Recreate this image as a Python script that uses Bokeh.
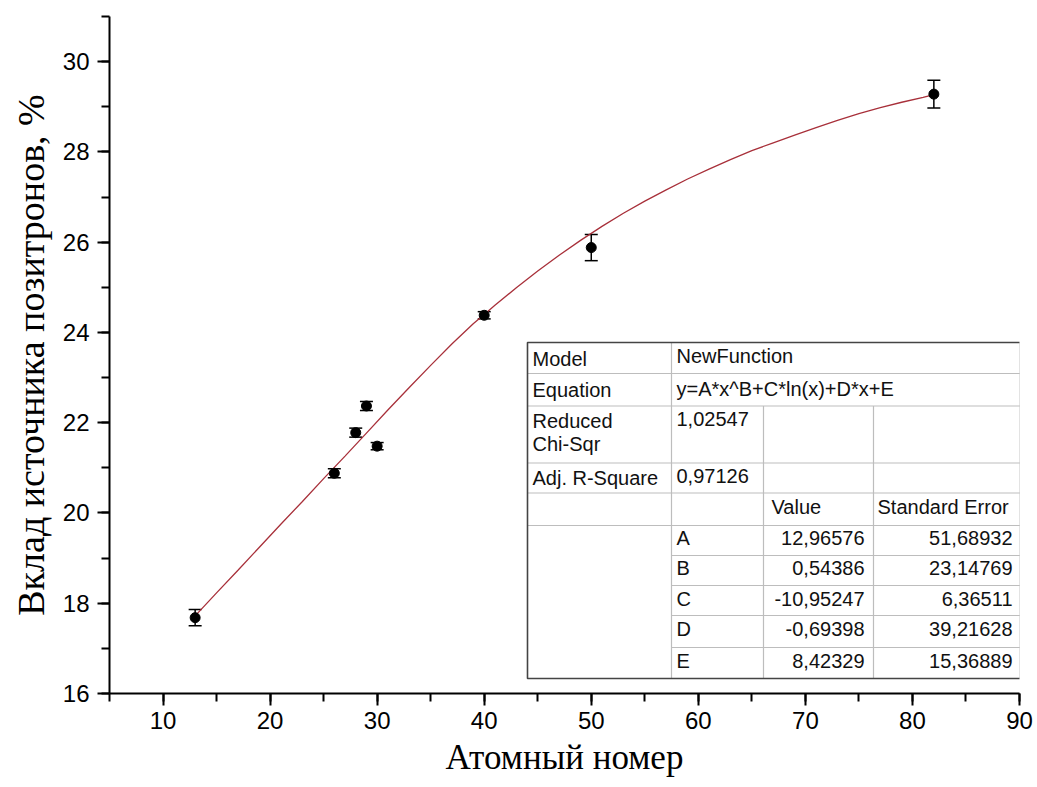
from bokeh.plotting import figure
from bokeh.models import Range1d, SingleIntervalTicker, ColumnDataSource, Whisker, TeeHead
from bokeh.core.properties import value
from bokeh.embed import file_html
from bokeh.resources import INLINE

# ---- data ----
atomic_number = [13, 26, 28, 29, 30, 40, 50, 82]
contribution = [17.68, 20.88, 21.78, 22.37, 21.48, 24.38, 25.88, 29.28]
error = [0.18, 0.10, 0.10, 0.10, 0.08, 0.08, 0.29, 0.31]

fit_x = [13, 15, 17, 19, 21, 23, 25, 27, 29, 31, 33, 35, 37, 39, 40, 41, 43, 45, 47, 49,
         51, 53, 55, 57, 59, 61, 63, 65, 67, 69, 71, 73, 75, 77, 79, 81, 82]
fit_y = [17.72, 18.23, 18.73, 19.24, 19.75, 20.25, 20.76, 21.26, 21.77, 22.28, 22.78,
         23.27, 23.75, 24.20, 24.40, 24.60, 24.99, 25.36, 25.71, 26.04,
         26.35, 26.64, 26.91, 27.16, 27.40, 27.62, 27.83, 28.03, 28.20, 28.37,
         28.54, 28.70, 28.85, 28.98, 29.10, 29.21, 29.27]

x_ticks_interval = 10
y_ticks_interval = 2

table_model = "NewFunction"
table_equation = "y=A*x^B+C*ln(x)+D*x+E"
table_chi = "1,02547"
table_r2 = "0,97126"
param_names = ["A", "B", "C", "D", "E"]
param_values = ["12,96576", "0,54386", "-10,95247", "-0,69398", "8,42329"]
param_errors = ["51,68932", "23,14769", "6,36511", "39,21628", "15,36889"]

# ---- figure ----
XMIN, XMAX, YMIN, YMAX = 5, 90, 16, 31
LEFT, RIGHT, TOP, BOTTOM = 109, 1019, 16, 693
W, H = 1037, 787

p = figure(width=W, height=H, x_range=Range1d(XMIN, XMAX), y_range=Range1d(YMIN, YMAX),
           min_border_left=LEFT, min_border_right=W - RIGHT, min_border_top=TOP,
           min_border_bottom=H - BOTTOM, output_backend="svg", toolbar_location=None)
p.outline_line_color = None
p.xgrid.visible = False
p.ygrid.visible = False
p.background_fill_color = "white"
p.border_fill_color = "white"

for ax in (p.xaxis[0], p.yaxis[0]):
    ax.axis_line_width = 2
    ax.axis_line_color = "black"
    ax.major_tick_line_width = 2
    ax.minor_tick_line_width = 2
    ax.major_tick_out = 12
    ax.major_tick_in = 0
    ax.minor_tick_out = 8
    ax.minor_tick_in = 0
    ax.major_label_text_font = "Liberation Sans"
    ax.major_label_text_font_size = "24px"
    ax.major_label_text_color = "black"
    ax.axis_label_text_font = "Liberation Serif"
    ax.axis_label_text_font_style = "normal"
    ax.axis_label_text_color = "black"

p.xaxis[0].ticker = SingleIntervalTicker(interval=x_ticks_interval, num_minor_ticks=2)
p.yaxis[0].ticker = SingleIntervalTicker(interval=y_ticks_interval, num_minor_ticks=2)
p.xaxis[0].axis_label = "Атомный номер"
p.yaxis[0].axis_label = "Вклад источника позитронов, %"
p.xaxis[0].axis_label_text_font_size = "35px"
p.yaxis[0].axis_label_text_font_size = "38px"
p.xaxis[0].major_label_standoff = 6
p.yaxis[0].major_label_standoff = 8
p.xaxis[0].axis_label_standoff = 6
p.yaxis[0].axis_label_standoff = 8

# fit curve
p.line(fit_x, fit_y, line_color="#a8303a", line_width=1.3)

# error bars
src = ColumnDataSource(dict(
    x=atomic_number, y=contribution,
    lo=[c - e for c, e in zip(contribution, error)],
    hi=[c + e for c, e in zip(contribution, error)],
))
wh = Whisker(source=src, base="x", lower="lo", upper="hi", line_color="black", line_width=1.5,
             upper_head=TeeHead(size=13, line_width=1.5, line_color="black"),
             lower_head=TeeHead(size=13, line_width=1.5, line_color="black"))
p.add_layout(wh)
p.scatter("x", "y", source=src, size=10, color="black")

# ---- parameter table (pixel layout converted to data coords) ----
def dx(px):
    return XMIN + (px - LEFT) * (XMAX - XMIN) / (RIGHT - LEFT)

def dy(py):
    return YMIN + (BOTTOM - py) * (YMAX - YMIN) / (BOTTOM - TOP)

cols = [527, 671, 763, 873, 1020]
rows = [342, 373, 405.5, 462.5, 492.5, 525, 555, 585, 615, 647, 678]

light = "#bdbdbd"
p.quad(left=dx(cols[0]), right=dx(cols[-1]), top=dy(rows[0]), bottom=dy(rows[-1]),
       fill_color="white", line_color=None)
hx0, hx1, hy = [], [], []
for r in rows[1:6]:
    hx0.append(dx(cols[0])); hx1.append(dx(cols[-1])); hy.append(dy(r))
for r in rows[6:10]:
    hx0.append(dx(cols[1])); hx1.append(dx(cols[-1])); hy.append(dy(r))
p.segment(x0=hx0, x1=hx1, y0=hy, y1=hy, line_color=light, line_width=1.2)
vx = [dx(cols[1]), dx(cols[2]), dx(cols[3])]
vy0 = [dy(rows[0]), dy(rows[2]), dy(rows[2])]
vy1 = [dy(rows[-1])] * 3
p.segment(x0=vx, x1=vx, y0=vy0, y1=vy1, line_color=light, line_width=1.2)
p.quad(left=dx(cols[0]), right=dx(cols[-1]), top=dy(rows[0]), bottom=dy(rows[-1]),
       fill_color=None, line_color="#444444", line_width=1.6)

tf = value("Liberation Sans")
fs = "20px"

def txt(x, y, s, align="left"):
    p.text(x=[dx(x)], y=[dy(y)], text=[s], text_font=tf, text_font_size=fs,
           text_color="#111111", text_align=align, text_baseline="middle")

txt(532, 358, "Model")
txt(676, 355, table_model)
txt(532, 389, "Equation")
txt(676, 388, table_equation)
txt(532, 420, "Reduced")
txt(532, 443, "Chi-Sqr")
txt(676, 418, table_chi)
txt(532, 477, "Adj. R-Square")
txt(676, 475, table_r2)
txt(771, 506, "Value")
txt(877, 506, "Standard Error")
ry = [537, 567, 598, 628, 660]
for name, v, e, yy in zip(param_names, param_values, param_errors, ry):
    txt(676, yy, name)
    txt(864, yy, v, "right")
    txt(1012, yy, e, "right")

open("out.html", "w").write(file_html(p, INLINE))
